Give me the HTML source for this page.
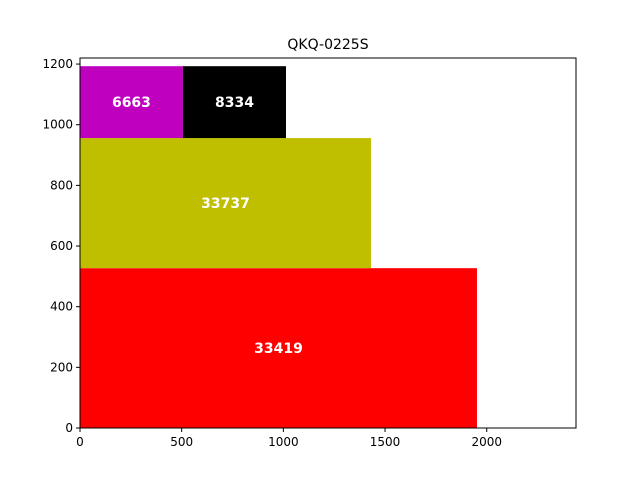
<!DOCTYPE html>
<html><head><meta charset="utf-8"><style>
body{margin:0;background:#fff;}
svg text{font-family:"DejaVu Sans","Liberation Sans",sans-serif;}
</style></head><body>
<svg id="chart" width="640" height="480"></svg>
<script>
const labels = ["33419","33737","6663","8334"];
const rectX = [0, 0, 0, 506];
const rectW = [1952, 1431, 506, 507];
const rectY = [0, 527, 956, 956];
const rectH = [527, 429, 237, 237];
const colors = ["#ff0000","#bfbf00","#bf00bf","#000000"];
const xTicks = [0,500,1000,1500,2000];
const yTicks = [0,200,400,600,800,1000,1200];
const xMax = 2439, yMax = 1220;
const L=80,R=576,T=58,B=428;
const sx=v=>L+(v/xMax)*(R-L);
const sy=v=>B-(v/yMax)*(B-T);
const svg=document.getElementById('chart');
const NS="http://www.w3.org/2000/svg";
function mk(tag,attrs,parent){const e=document.createElementNS(NS,tag);for(const k in attrs)e.setAttribute(k,attrs[k]);(parent||svg).appendChild(e);return e;}
for(let i=0;i<labels.length;i++){
  const r=mk('rect',{x:sx(rectX[i]),y:sy(rectY[i]+rectH[i]),width:sx(rectX[i]+rectW[i])-sx(rectX[i]),height:sy(rectY[i])-sy(rectY[i]+rectH[i]),fill:colors[i]});
  
  
  const t=mk('text',{x:sx(rectX[i]+rectW[i]/2),y:sy(rectY[i]+rectH[i]/2)+5,'text-anchor':'middle','font-size':'14','font-weight':'bold',fill:'#fff'});
  t.textContent=labels[i];
  
  
}
const frame=mk('rect',{x:L,y:T,width:R-L,height:B-T,fill:'none',stroke:'#000','stroke-width':1});


xTicks.forEach(v=>{
  mk('line',{x1:sx(v),x2:sx(v),y1:B,y2:B+4,stroke:'#000'});
  const t=mk('text',{x:sx(v),y:B+18,'text-anchor':'middle','font-size':'12'});
  t.textContent=v;
  
  
});
yTicks.forEach(v=>{
  mk('line',{x1:L-4,x2:L,y1:sy(v),y2:sy(v),stroke:'#000'});
  const t=mk('text',{x:L-7,y:sy(v)+4,'text-anchor':'end','font-size':'12'});
  t.textContent=v;
  
  
});
const title=mk('text',{x:(L+R)/2,y:T-9,'text-anchor':'middle','font-size':'14'});
title.textContent="QKQ-0225S";


</script>
</body></html>
